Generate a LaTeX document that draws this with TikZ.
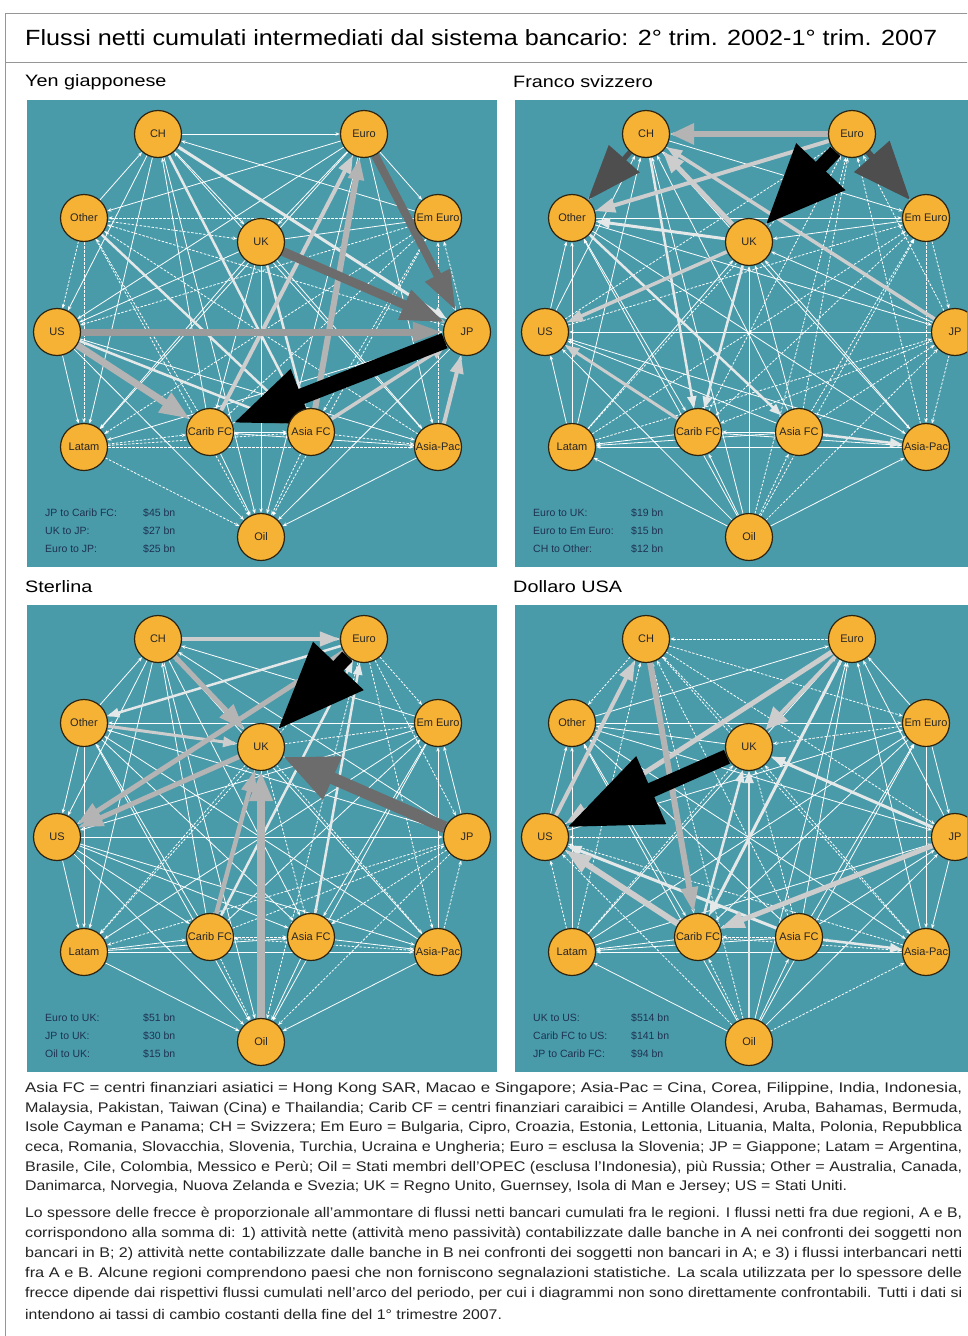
\documentclass[tikz,border=0pt]{standalone}
\usepackage{graphicx}
\usepackage{fontspec}
\setmainfont{Liberation Sans}
\usetikzlibrary{arrows.meta}
\definecolor{panelteal}{RGB}{74,155,170}
\definecolor{regionfill}{RGB}{246,178,52}
\definecolor{regionline}{RGB}{45,35,15}
\definecolor{legendtext}{RGB}{30,50,82}
\definecolor{framegray}{RGB}{150,150,150}
\definecolor{notetext}{RGB}{35,35,35}
\definecolor{flowdark}{RGB}{108,108,108}
\definecolor{flowdeep}{RGB}{78,78,78}
\definecolor{flowmid}{RGB}{155,155,155}
\definecolor{flowlight}{RGB}{180,180,180}
\definecolor{flowpale}{RGB}{205,205,205}
\definecolor{flowwhite}{RGB}{228,232,232}
\pgfdeclarelayer{bg}
\pgfsetlayers{bg,main}

\tikzstyle{region} = [circle, minimum size=47pt, inner sep=0pt, draw=regionline, line width=1.2pt, fill=regionfill, font=\fontsize{11}{12}\selectfont, text=black!85]
\tikzstyle{web} = [draw=white, line width=0.8pt, -{Stealth[length=4.5pt,width=3.5pt]}]
\tikzstyle{webdash} = [web, dash pattern=on 2.5pt off 1.5pt]
\tikzstyle{flow} = [line cap=butt, line join=miter]
\tikzstyle{legend} = [anchor=west, align=left, inner sep=0pt, text=legendtext, font=\fontsize{10.5}{18}\selectfont]
\tikzstyle{maintitle} = [anchor=west, inner sep=0pt, font=\fontsize{22}{24}\selectfont]
\tikzstyle{heading} = [anchor=west, inner sep=0pt, font=\fontsize{16.5}{18}\selectfont]
\tikzstyle{noteline} = [anchor=west, inner sep=0pt, text=notetext, font=\fontsize{14}{16}\selectfont]

\newcommand{\legendrow}[2]{\makebox[98pt][l]{#1}#2}
\newcommand{\wideline}[1]{\resizebox{937pt}{\height}{#1}}
\newcommand{\shortline}[1]{\scalebox{1.13}[1]{#1}}

% one currency panel: prefix, x shift, y shift, seed of the thin network, legend
\newcommand{\regionpanel}[5]{%
  \begin{scope}[shift={(#2,#3)}]
    \begin{pgfonlayer}{bg}
      \fill[panelteal] (27,100) rectangle (497,567);
    \end{pgfonlayer}
    \node[region] (#1-CH) at (158,134) {CH};
    \node[region] (#1-Euro) at (364,134) {Euro};
    \node[region] (#1-Other) at (84,218) {Other};
    \node[region] (#1-UK) at (261,242) {UK};
    \node[region] (#1-EmEuro) at (438,218) {Em Euro};
    \node[region] (#1-US) at (57,332) {US};
    \node[region] (#1-JP) at (467,332) {JP};
    \node[region] (#1-Latam) at (84,447) {Latam};
    \node[region] (#1-CaribFC) at (210,432) {Carib FC};
    \node[region] (#1-AsiaFC) at (311,432) {Asia FC};
    \node[region] (#1-AsiaPac) at (438,447) {Asia-Pac};
    \node[region] (#1-Oil) at (261,537) {Oil};
    \node[legend] (#1-legend) at (45,531) {#5};
  \end{scope}
  \begin{pgfonlayer}{bg}
    \foreach \a [count=\i] in {CH,Euro,Other,UK,EmEuro,US,JP,Latam,CaribFC,AsiaFC,AsiaPac,Oil} {
      \foreach \b [count=\j] in {CH,Euro,Other,UK,EmEuro,US,JP,Latam,CaribFC,AsiaFC,AsiaPac,Oil} {
        \ifnum\i<\j
          \pgfmathtruncatemacro\dir{mod(\i*\j+#4,2)}
          \pgfmathtruncatemacro\dsh{mod(\i*7+\j*5+#4,5)}
          \ifnum\dsh<2 \def\websty{webdash}\else\def\websty{web}\fi
          \ifnum\dir=0
            \draw[\websty] (#1-\a) -- (#1-\b);
          \else
            \draw[\websty] (#1-\b) -- (#1-\a);
          \fi
        \fi
      }
    }
  \end{pgfonlayer}
}

\begin{document}
\begin{tikzpicture}[x=1pt, y=-1pt]
  \useasboundingbox (0,0) rectangle (967,1336);
  \clip (0,0) rectangle (967,1336);
  \begin{pgfonlayer}{bg}
    \fill[white] (0,0) rectangle (967,1336);
  \end{pgfonlayer}

  % frame and title
  \draw[framegray, line width=1pt] (5.5,13.5) rectangle (1000,1400);
  \draw[framegray, line width=1pt] (5.5,62) -- (1000,62);
  \node[maintitle] (title) at (25,38) {\scalebox{1.145}[1]{Flussi netti cumulati intermediati dal sistema bancario: 2° trim. 2002-1° trim. 2007}};

  \node[heading] (yen-head) at (25,82) {\scalebox{1.2}[1]{Yen giapponese}};
  \node[heading] (chf-head) at (513,82) {\scalebox{1.2}[1]{Franco svizzero}};
  \node[heading] (gbp-head) at (25,587) {\scalebox{1.2}[1]{Sterlina}};
  \node[heading] (usd-head) at (513,587) {\scalebox{1.2}[1]{Dollaro USA}};

  % the four panels
  \regionpanel{y}{0}{0}{0}{\legendrow{JP to Carib FC:}{\$45 bn}\\\legendrow{UK to JP:}{\$27 bn}\\\legendrow{Euro to JP:}{\$25 bn}}
  \regionpanel{f}{488}{0}{1}{\legendrow{Euro to UK:}{\$19 bn}\\\legendrow{Euro to Em Euro:}{\$15 bn}\\\legendrow{CH to Other:}{\$12 bn}}
  \regionpanel{s}{0}{505}{2}{\legendrow{Euro to UK:}{\$51 bn}\\\legendrow{JP to UK:}{\$30 bn}\\\legendrow{Oil to UK:}{\$15 bn}}
  \regionpanel{d}{488}{505}{3}{\legendrow{UK to US:}{\$514 bn}\\\legendrow{Carib FC to US:}{\$141 bn}\\\legendrow{JP to Carib FC:}{\$94 bn}}

  \begin{pgfonlayer}{bg}
    % Yen
    \draw[flow, line width=2.5pt, draw=flowwhite, -{Triangle[length=12pt,width=9pt]}] (y-Other) -- (y-AsiaFC);
    \draw[flow, line width=2.5pt, draw=flowwhite, -{Triangle[length=12pt,width=9pt]}] (y-UK) -- (y-AsiaFC);
    \draw[flow, line width=2.5pt, draw=flowwhite, -{Triangle[length=12pt,width=9pt]}] (y-US) -- (y-AsiaFC);
    \draw[flow, line width=2.5pt, draw=flowwhite, -{Triangle[length=12pt,width=9pt]}] (y-CH) -- (y-AsiaFC);
    \draw[flow, line width=3pt, draw=flowwhite, -{Triangle[length=14pt,width=10pt]}] (y-CH) -- (y-JP);
    \draw[flow, line width=3.5pt, draw=flowpale, -{Triangle[length=16pt,width=11pt]}] (y-AsiaFC) -- (y-JP);
    \draw[flow, line width=4pt, draw=flowpale, -{Triangle[length=18pt,width=13pt]}] (y-AsiaPac) -- (y-JP);
    \draw[flow, line width=4pt, draw=flowpale, -{Triangle[length=18pt,width=13pt]}] (y-CaribFC) -- (y-Euro);
    \draw[flow, line width=6pt, draw=flowlight, -{Triangle[length=22pt,width=15pt]}] (y-AsiaFC) -- (y-Euro);
    \draw[flow, line width=7pt, draw=flowlight, -{Triangle[length=30pt,width=22pt]}] (y-US) -- (y-CaribFC);
    \draw[flow, line width=7pt, draw=flowmid, -{Triangle[length=30pt,width=18pt]}] (y-US) -- (y-JP);
    \draw[flow, line width=8pt, draw=flowdark, -{Triangle[length=40pt,width=26pt]}] (y-Euro) -- (y-JP);
    \draw[flow, line width=9pt, draw=flowdark, -{Triangle[length=44pt,width=30pt]}] (y-UK) -- (y-JP);
    \draw[flow, line width=16pt, draw=black, -{Triangle[length=74pt,width=54pt]}] (y-JP) -- (y-CaribFC);

    % Franc
    \draw[flow, line width=2.5pt, draw=flowwhite, -{Triangle[length=12pt,width=9pt]}] (f-CH) -- (f-CaribFC);
    \draw[flow, line width=2.5pt, draw=flowwhite, -{Triangle[length=12pt,width=9pt]}] (f-UK) -- (f-CaribFC);
    \draw[flow, line width=2.5pt, draw=flowwhite, -{Triangle[length=12pt,width=9pt]}] (f-AsiaFC) -- (f-AsiaPac);
    \draw[flow, line width=2.5pt, draw=flowwhite, -{Triangle[length=12pt,width=9pt]}] (f-Other) -- (f-AsiaFC);
    \draw[flow, line width=3pt, draw=flowwhite, -{Triangle[length=14pt,width=10pt]}] (f-UK) -- (f-Other);
    \draw[flow, line width=3pt, draw=flowpale, -{Triangle[length=14pt,width=10pt]}] (f-CaribFC) -- (f-US);
    \draw[flow, line width=3.5pt, draw=flowpale, -{Triangle[length=16pt,width=11pt]}] (f-UK) -- (f-US);
    \draw[flow, line width=3.5pt, draw=flowpale, -{Triangle[length=16pt,width=11pt]}] (f-JP) -- (f-CH);
    \draw[flow, line width=5pt, draw=flowpale, -{Triangle[length=22pt,width=16pt]}] (f-UK) -- (f-CH);
    \draw[flow, line width=4pt, draw=flowpale, -{Triangle[length=20pt,width=14pt]}] (f-Euro) -- (f-Other);
    \draw[flow, line width=6pt, draw=flowlight, -{Triangle[length=24pt,width=20pt]}] (f-Euro) -- (f-CH);
    \draw[flow, line width=5pt, draw=flowdeep, -{Triangle[length=55pt,width=40pt]}] (f-CH) -- (f-Other);
    \draw[flow, line width=6pt, draw=flowdeep, -{Triangle[length=58pt,width=46pt]}] (f-Euro) -- (f-EmEuro);
    \draw[flow, line width=14pt, draw=black, -{Triangle[length=80pt,width=64pt]}] (f-Euro) -- (f-UK);

    % Sterling
    \draw[flow, line width=2.5pt, draw=flowwhite, -{Triangle[length=12pt,width=9pt]}] (s-Euro) -- (s-Other);
    \draw[flow, line width=2.5pt, draw=flowwhite, -{Triangle[length=12pt,width=9pt]}] (s-AsiaFC) -- (s-Euro);
    \draw[flow, line width=2.5pt, draw=flowwhite, -{Triangle[length=12pt,width=9pt]}] (s-CaribFC) -- (s-Euro);
    \draw[flow, line width=3pt, draw=flowpale, -{Triangle[length=14pt,width=10pt]}] (s-Other) -- (s-UK);
    \draw[flow, line width=4pt, draw=flowpale, -{Triangle[length=20pt,width=14pt]}] (s-CH) -- (s-Euro);
    \draw[flow, line width=4.5pt, draw=flowlight, -{Triangle[length=22pt,width=15pt]}] (s-CaribFC) -- (s-UK);
    \draw[flow, line width=5pt, draw=flowlight, -{Triangle[length=24pt,width=17pt]}] (s-UK) -- (s-US);
    \draw[flow, line width=5pt, draw=flowlight, -{Triangle[length=24pt,width=17pt]}] (s-Euro) -- (s-US);
    \draw[flow, line width=5pt, draw=flowlight, -{Triangle[length=26pt,width=18pt]}] (s-CH) -- (s-UK);
    \draw[flow, line width=8pt, draw=flowlight, -{Triangle[length=30pt,width=22pt]}] (s-Oil) -- (s-UK);
    \draw[flow, line width=12pt, draw=flowdark, -{Triangle[length=54pt,width=44pt]}] (s-JP) -- (s-UK);
    \draw[flow, line width=14pt, draw=black, -{Triangle[length=88pt,width=66pt]}] (s-Euro) -- (s-UK);

    % Dollar
    \draw[flow, line width=2.5pt, draw=flowwhite, -{Triangle[length=12pt,width=9pt]}] (d-CaribFC) -- (d-UK);
    \draw[flow, line width=2.5pt, draw=flowwhite, -{Triangle[length=12pt,width=9pt]}] (d-Oil) -- (d-UK);
    \draw[flow, line width=2.5pt, draw=flowwhite, -{Triangle[length=12pt,width=9pt]}] (d-AsiaFC) -- (d-AsiaPac);
    \draw[flow, line width=3pt, draw=flowwhite, -{Triangle[length=14pt,width=10pt]}] (d-JP) -- (d-UK);
    \draw[flow, line width=3pt, draw=flowwhite, -{Triangle[length=14pt,width=10pt]}] (d-AsiaFC) -- (d-US);
    \draw[flow, line width=3pt, draw=flowwhite, -{Triangle[length=14pt,width=10pt]}] (d-Euro) -- (d-CaribFC);
    \draw[flow, line width=4pt, draw=flowpale, -{Triangle[length=20pt,width=14pt]}] (d-US) -- (d-CH);
    \draw[flow, line width=4pt, draw=flowpale, -{Triangle[length=22pt,width=20pt]}] (d-Euro) -- (d-UK);
    \draw[flow, line width=5pt, draw=flowpale, -{Triangle[length=24pt,width=16pt]}] (d-Euro) -- (d-US);
    \draw[flow, line width=5pt, draw=flowpale, -{Triangle[length=24pt,width=16pt]}] (d-JP) -- (d-CaribFC);
    \draw[flow, line width=6pt, draw=flowlight, -{Triangle[length=26pt,width=16pt]}] (d-CH) -- (d-CaribFC);
    \draw[flow, line width=6pt, draw=flowpale, -{Triangle[length=26pt,width=18pt]}] (d-CaribFC) -- (d-US);
    \draw[flow, line width=15pt, draw=black, -{Triangle[length=92pt,width=70pt]}] (d-UK) -- (d-US);
  \end{pgfonlayer}

  % notes under the panels
  \node[noteline] (note1) at (25,1089) {\wideline{Asia FC = centri finanziari asiatici = Hong Kong SAR, Macao e Singapore; Asia-Pac = Cina, Corea, Filippine, India, Indonesia,}};
  \node[noteline] (note2) at (25,1109) {\wideline{Malaysia, Pakistan, Taiwan (Cina) e Thailandia; Carib CF = centri finanziari caraibici = Antille Olandesi, Aruba, Bahamas, Bermuda,}};
  \node[noteline] (note3) at (25,1128) {\wideline{Isole Cayman e Panama; CH = Svizzera; Em Euro = Bulgaria, Cipro, Croazia, Estonia, Lettonia, Lituania, Malta, Polonia, Repubblica}};
  \node[noteline] (note4) at (25,1148) {\wideline{ceca, Romania, Slovacchia, Slovenia, Turchia, Ucraina e Ungheria; Euro = esclusa la Slovenia; JP = Giappone; Latam = Argentina,}};
  \node[noteline] (note5) at (25,1168) {\wideline{Brasile, Cile, Colombia, Messico e Perù; Oil = Stati membri dell'OPEC (esclusa l'Indonesia), più Russia; Other = Australia, Canada,}};
  \node[noteline] (note6) at (25,1187) {\shortline{Danimarca, Norvegia, Nuova Zelanda e Svezia; UK = Regno Unito, Guernsey, Isola di Man e Jersey; US = Stati Uniti.}};

  \node[noteline] (note7) at (25,1214) {\wideline{Lo spessore delle frecce è proporzionale all'ammontare di flussi netti bancari cumulati fra le regioni. I flussi netti fra due regioni, A e B,}};
  \node[noteline] (note8) at (25,1234) {\wideline{corrispondono alla somma di: 1) attività nette (attività meno passività) contabilizzate dalle banche in A nei confronti dei soggetti non}};
  \node[noteline] (note9) at (25,1254) {\wideline{bancari in B; 2) attività nette contabilizzate dalle banche in B nei confronti dei soggetti non bancari in A; e 3) i flussi interbancari netti}};
  \node[noteline] (note10) at (25,1274) {\wideline{fra A e B. Alcune regioni comprendono paesi che non forniscono segnalazioni statistiche. La scala utilizzata per lo spessore delle}};
  \node[noteline] (note11) at (25,1294) {\wideline{frecce dipende dai rispettivi flussi cumulati nell'arco del periodo, per cui i diagrammi non sono direttamente confrontabili. Tutti i dati si}};
  \node[noteline] (note12) at (25,1314) {\shortline{intendono ai tassi di cambio costanti della fine del 1° trimestre 2007.}};
\end{tikzpicture}
\end{document}
